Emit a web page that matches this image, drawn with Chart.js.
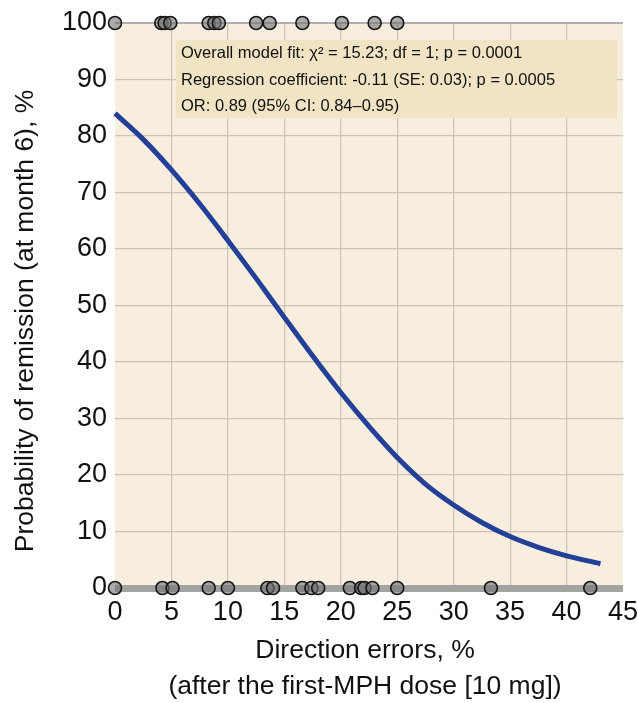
<!DOCTYPE html>
<html><head><meta charset="utf-8">
<script src="https://cdn.jsdelivr.net/npm/chart.js@4/dist/chart.umd.min.js"></script>
<style>html,body{margin:0;padding:0;background:#fff;overflow:hidden}#wrap{width:638px;height:703px;position:relative}canvas{display:block}</style>
</head><body><div id="wrap"><canvas id="c" width="638" height="703" style="width:638px;height:703px"></canvas></div>
<script>
// Fitted logistic curve
const curveX = [0, 2.5, 5, 7.5, 10, 12.5, 15, 17.5, 20, 22.5, 25, 27.5, 30, 32.5, 35, 37.5, 40, 43];
const curveY = [84, 79.4, 74, 68, 61.5, 54.8, 47.9, 41.1, 34.6, 28.6, 23.1, 18.4, 14.7, 11.6, 9.1, 7.2, 5.7, 4.3];
// Observed patients: remission (100) and no remission (0)
const remittedX = [0, 4.1, 4.4, 4.9, 8.3, 8.8, 9.2, 12.5, 13.7, 16.6, 20.1, 23.0, 25.0];
const nonRemittedX = [0, 4.2, 5.1, 8.3, 10.0, 13.5, 14.0, 16.6, 17.4, 18.0, 20.8, 21.8, 22.1, 22.8, 25.0, 33.3, 42.1];
const xTickValues = [0, 5, 10, 15, 20, 25, 30, 35, 40, 45];
const yTickValues = [0, 10, 20, 30, 40, 50, 60, 70, 80, 90, 100];
const xTitle = ['Direction errors, %', '(after the first-MPH dose [10 mg])'];
const yTitle = 'Probability of remission (at month 6), %';
const statsLines = [
  'Overall model fit: \u03C7\u00B2 = 15.23; df = 1; p = 0.0001',
  'Regression coefficient: -0.11 (SE: 0.03); p = 0.0005',
  'OR: 0.89 (95% CI: 0.84\u20130.95)'
];

const FONT = '"Liberation Sans", Arial, Helvetica, sans-serif';

const decor = {
  id: 'decor',
  beforeDraw(chart) {
    const {ctx, chartArea: a} = chart;
    ctx.save();
    ctx.fillStyle = '#f7eee0';
    ctx.fillRect(a.left, a.top, a.right - a.left, a.bottom - a.top);
    ctx.restore();
  },
  beforeDatasetsDraw(chart) {
    const {ctx} = chart;
    ctx.save();
    ctx.fillStyle = '#f0e4c4';
    ctx.fillRect(176, 40, 441, 78);
    ctx.fillStyle = '#111';
    ctx.font = '16.5px ' + FONT;
    ctx.textBaseline = 'alphabetic';
    ctx.textAlign = 'left';
    statsLines.forEach((t, i) => ctx.fillText(t, 181, 58 + i * 26.5));
    ctx.restore();
  },
  afterDraw(chart) {
    const {ctx, chartArea: a} = chart;
    ctx.save();
    ctx.fillStyle = '#111';
    ctx.font = '26.5px ' + FONT;
    ctx.textAlign = 'center';
    ctx.textBaseline = 'alphabetic';
    const cx = 365;
    ctx.fillText(xTitle[0], cx, 658);
    ctx.fillText(xTitle[1], cx, 694);
    ctx.translate(33, 321);
    ctx.rotate(-Math.PI / 2);
    ctx.fillText(yTitle, 0, 0);
    ctx.restore();
  }
};

const pointStyle = {
  type: 'scatter',
  pointRadius: 6.5,
  pointHoverRadius: 6.5,
  pointBackgroundColor: 'rgba(115,115,115,0.6)',
  pointBorderColor: '#161616',
  pointBorderWidth: 1.6,
  showLine: false,
  clip: false
};

new Chart(document.getElementById('c'), {
  type: 'scatter',
  data: {
    datasets: [
      {
        type: 'line',
        label: 'Fitted probability',
        data: curveX.map((x, i) => ({x, y: curveY[i]})),
        borderColor: '#233f97',
        borderWidth: 5,
        pointRadius: 0,
        cubicInterpolationMode: 'monotone',
        fill: false,
        clip: false
      },
      Object.assign({label: 'Remission', data: remittedX.map(x => ({x, y: 100}))}, pointStyle),
      Object.assign({label: 'No remission', data: nonRemittedX.map(x => ({x, y: 0}))}, pointStyle)
    ]
  },
  options: {
    responsive: false,
    animation: false,
    devicePixelRatio: 1,
    layout: {padding: {top: 23, right: 15, left: 0, bottom: 0}},
    plugins: {legend: {display: false}, tooltip: {enabled: false}},
    scales: {
      x: {
        type: 'linear', min: 0, max: 45,
        afterFit(s) { s.height = 115; s.paddingLeft = 0; s.paddingRight = 0; },
        afterBuildTicks(s) { s.ticks = xTickValues.map(v => ({value: v})); },
        border: {display: false},
        grid: {
          drawTicks: false,
          color: c => (c.tick && (c.tick.value === 0 || c.tick.value === 45)) ? 'rgba(0,0,0,0)' : '#cbc3b6',
          lineWidth: 1.2
        },
        ticks: {color: '#111', font: {family: FONT, size: 27}, padding: 8, maxRotation: 0}
      },
      y: {
        type: 'linear', min: 0, max: 100,
        afterFit(s) { s.width = 115; s.paddingTop = 0; s.paddingBottom = 0; },
        afterBuildTicks(s) { s.ticks = yTickValues.map(v => ({value: v})); },
        border: {display: false},
        grid: {
          drawTicks: false,
          color: c => {
            if (!c.tick) return '#cbc3b6';
            if (c.tick.value === 0) return '#a3a3a3';
            if (c.tick.value === 100) return '#b0b0b0';
            return '#cbc3b6';
          },
          lineWidth: c => (c.tick && c.tick.value === 0) ? 7 : (c.tick && c.tick.value === 100 ? 2 : 1.2)
        },
        ticks: {color: '#111', font: {family: FONT, size: 27}, padding: 8}
      }
    }
  },
  plugins: [decor]
});
</script>
</body></html>
